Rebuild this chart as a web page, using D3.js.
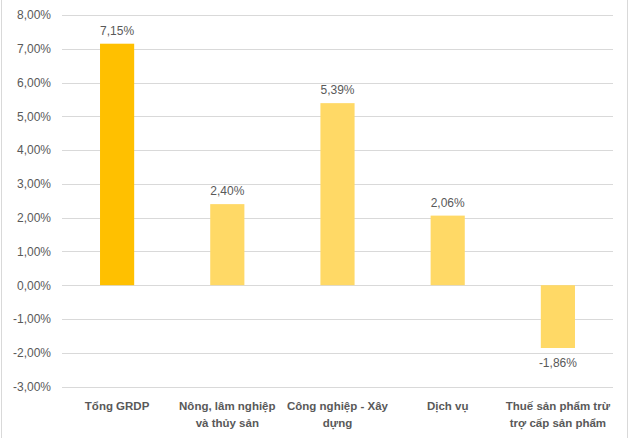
<!DOCTYPE html>
<html><head><meta charset="utf-8">
<script src="https://cdn.jsdelivr.net/npm/d3@7"></script>
<style>body{margin:0;background:#fff}svg{display:block}</style>
</head><body><svg id="c" width="630" height="438"></svg>
<script>
const categories = [["Tổng GRDP"], ["Nông, lâm nghiệp", "và thủy sản"], ["Công nghiệp - Xây", "dựng"], ["Dịch vụ"], ["Thuế sản phẩm trừ", "trợ cấp sản phẩm"]];
const values = [7.15, 2.40, 5.39, 2.06, -1.86];
const tickValues = [-3, -2, -1, 0, 1, 2, 3, 4, 5, 6, 7, 8];
const barColors = ["#FFC000", "#FFD966", "#FFD966", "#FFD966", "#FFD966"];

const fmt = v => v.toFixed(2).replace(".", ",") + "%";
const svg = d3.select("#c");
const W = 630, H = 438;
svg.append("rect").attr("x", 1.5).attr("y", -2).attr("width", 626).attr("height", H + 4)
  .attr("fill", "#fff").attr("stroke", "#d9d9d9");

const x = d3.scaleBand().domain(d3.range(categories.length)).range([62, 613]).paddingInner(0.69).paddingOuter(0.345);
const y = d3.scaleLinear().domain([-3, 8]).range([386.5, 15]);

const grid = svg.append("g");
grid.selectAll("line").data(tickValues).join("line")
  .attr("x1", 62).attr("x2", 613)
  .attr("y1", d => Math.round(y(d)) + 0.5).attr("y2", d => Math.round(y(d)) + 0.5)
  .attr("stroke", "#d9d9d9").attr("stroke-width", 1);

const yAxis = d3.axisLeft(y).tickValues(tickValues).tickFormat(fmt).tickSize(0).tickPadding(0);
svg.append("g").attr("transform", "translate(51,0)").call(yAxis)
  .call(g => g.select(".domain").remove())
  .call(g => g.selectAll("text").attr("font-family", "Liberation Sans, Arial, sans-serif")
    .attr("font-size", 12).attr("fill", "#595959"));

svg.append("g").selectAll("rect").data(values).join("rect")
  .attr("x", (d, i) => x(i)).attr("width", x.bandwidth())
  .attr("y", d => y(Math.max(0, d))).attr("height", d => Math.abs(y(d) - y(0)))
  .attr("fill", (d, i) => barColors[i]);

svg.append("g").selectAll("text").data(values).join("text")
  .attr("x", (d, i) => x(i) + x.bandwidth() / 2)
  .attr("y", d => d >= 0 ? y(d) - 9 : y(d) + 19)
  .attr("text-anchor", "middle")
  .attr("font-family", "Liberation Sans, Arial, sans-serif").attr("font-size", 12).attr("fill", "#595959")
  .text(fmt);

const cat = svg.append("g").selectAll("text").data(categories).join("text")
  .attr("x", (d, i) => x(i) + x.bandwidth() / 2)
  .attr("y", 410)
  .attr("text-anchor", "middle")
  .attr("font-family", "Liberation Sans, Arial, sans-serif").attr("font-size", 11.5)
  .attr("font-weight", "bold").attr("fill", "#595959");
cat.selectAll("tspan").data(d => d).join("tspan")
  .attr("x", function () { return d3.select(this.parentNode).attr("x"); })
  .attr("dy", (d, i) => i === 0 ? 0 : 17)
  .text(d => d);
</script></body></html>
